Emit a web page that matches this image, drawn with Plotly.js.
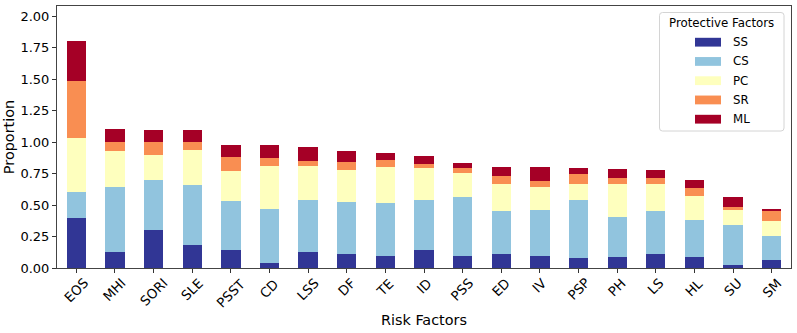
<!DOCTYPE html>
<html>
<head>
<meta charset="utf-8">
<script src="https://cdn.plot.ly/plotly-3.0.1.min.js"></script>
<style>html,body{margin:0;padding:0;background:#fff;}#chart{width:797px;height:333px;}</style>
</head>
<body>
<div id="chart"></div>
<script>
const categories = ["EOS","MHI","SORI","SLE","PSST","CD","LSS","DF","TE","ID","PSS","ED","IV","PSP","PH","LS","HL","SU","SM"];
const seriesNames = ["SS","CS","PC","SR","ML"];
const SS = [0.400,0.127,0.300,0.182,0.140,0.042,0.127,0.108,0.098,0.142,0.095,0.108,0.095,0.082,0.087,0.111,0.090,0.026,0.063];
const CS = [0.200,0.517,0.400,0.478,0.393,0.425,0.411,0.417,0.422,0.396,0.472,0.348,0.369,0.462,0.317,0.338,0.290,0.317,0.193];
const PC = [0.430,0.287,0.200,0.279,0.240,0.340,0.269,0.251,0.282,0.254,0.190,0.209,0.180,0.121,0.264,0.216,0.195,0.121,0.119];
const SR = [0.455,0.072,0.097,0.058,0.111,0.064,0.040,0.063,0.058,0.036,0.035,0.063,0.045,0.084,0.050,0.053,0.064,0.022,0.074];
const ML = [0.315,0.103,0.101,0.101,0.095,0.105,0.113,0.090,0.050,0.059,0.042,0.072,0.111,0.043,0.071,0.058,0.063,0.076,0.021];
const yTicks = [0,0.25,0.5,0.75,1.0,1.25,1.5,1.75,2.0];
const legendTitle = "Protective Factors";
const colors = ["#313695","#91c4de","#feffbe","#f98e52","#a50026"];
const values = [SS, CS, PC, SR, ML];

const font = "DejaVu Sans, sans-serif";
const W = 797, H = 333;
const M = {l: 57, r: 6, t: 6, b: 65};
const PW = W - M.l - M.r, PH = H - M.t - M.b;
const px = x => (x - M.l) / PW;
const py = y => (H - M.b - y) / PH;

const traces = seriesNames.map((n, i) => ({
  type: "bar",
  name: n,
  x: categories,
  y: values[i],
  width: 0.5,
  showlegend: false,
  marker: {color: colors[i], line: {width: 0}}
}));

// x tick labels, centred under each tick (rotated 45 deg)
const annotations = categories.map(c => ({
  x: c, xref: "x", y: 0, yref: "paper",
  text: c, showarrow: false, textangle: -45,
  xanchor: "center", yanchor: "top", yshift: -5,
  font: {family: font, size: 13.3, color: "#000"}
}));

// legend drawn by hand to match the wide swatches
const shapes = [];
const bx0 = 659.5, bx1 = 784, by0 = 12.5, by1 = 131, rad = 3;
const rx = rad / PW, ry = rad / PH;
const X0 = px(bx0), X1 = px(bx1), Y0 = py(by0), Y1 = py(by1);
shapes.push({
  type: "path", xref: "paper", yref: "paper",
  path: `M ${X0+rx},${Y0} L ${X1-rx},${Y0} Q ${X1},${Y0} ${X1},${Y0-ry} L ${X1},${Y1+ry} Q ${X1},${Y1} ${X1-rx},${Y1} L ${X0+rx},${Y1} Q ${X0},${Y1} ${X0},${Y1+ry} L ${X0},${Y0-ry} Q ${X0},${Y0} ${X0+rx},${Y0} Z`,
  fillcolor: "rgba(255,255,255,0.8)", line: {color: "#d4d4d4", width: 1}, layer: "above"
});
annotations.push({
  x: px((bx0 + bx1) / 2), xref: "paper", y: py(22.8), yref: "paper",
  text: legendTitle, showarrow: false, xanchor: "center", yanchor: "middle",
  font: {family: font, size: 11.8, color: "#000"}
});
seriesNames.forEach((n, i) => {
  const cy = 42.2 + i * 19.25;
  shapes.push({
    type: "rect", xref: "paper", yref: "paper",
    x0: px(695), x1: px(721), y0: py(cy - 4.4), y1: py(cy + 4.4),
    fillcolor: colors[i], line: {width: 0}, layer: "above"
  });
  annotations.push({
    x: px(731), xref: "paper", y: py(cy), yref: "paper",
    text: n, showarrow: false, xanchor: "left", yanchor: "middle",
    font: {family: font, size: 11.8, color: "#000"}
  });
});

const layout = {
  width: W, height: H,
  margin: M,
  paper_bgcolor: "#fff", plot_bgcolor: "#fff",
  barmode: "stack",
  font: {family: font, size: 13, color: "#000"},
  xaxis: {
    type: "category",
    range: [-0.5, 18.5],
    showticklabels: false,
    ticks: "outside", ticklen: 4, tickcolor: "#333",
    showline: true, linecolor: "#444", linewidth: 1, mirror: true,
    showgrid: false, zeroline: false,
    title: {text: "Risk Factors", font: {family: font, size: 14.4}, standoff: 42}
  },
  yaxis: {
    range: [0, 2.081],
    tickvals: yTicks,
    tickformat: ".2f",
    ticks: "outside", ticklen: 4, tickcolor: "#333",
    showline: true, linecolor: "#444", linewidth: 1, mirror: true,
    showgrid: false, zeroline: false,
    tickfont: {family: font, size: 13},
    title: {text: "Proportion", font: {family: font, size: 14.4}, standoff: 2}
  },
  showlegend: false,
  shapes: shapes,
  annotations: annotations
};

Plotly.newPlot("chart", traces, layout, {displayModeBar: false, staticPlot: true});
</script>
</body>
</html>
